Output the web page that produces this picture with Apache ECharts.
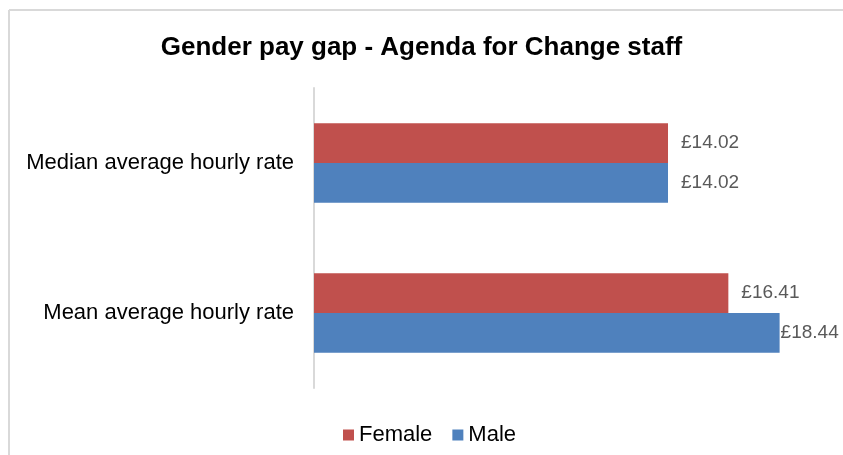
<!DOCTYPE html>
<html>
<head>
<meta charset="utf-8">
<script src="https://cdn.jsdelivr.net/npm/echarts@6/dist/echarts.min.js"></script>
<style>
  html, body { margin: 0; padding: 0; background: #fff; }
  #chart { width: 843px; height: 455px; }
</style>
</head>
<body>
<div id="chart"></div>
<script>
  // categories bottom-to-top (ECharts draws the first category at the bottom)
  var categories = ['Mean average hourly rate', 'Median average hourly rate'];
  var femaleValues = [16.41, 14.02];
  var maleValues = [18.44, 14.02];

  var myChart = echarts.init(document.getElementById('chart'));

  function money(p) {
    return '£' + p.value.toFixed(2);
  }

  var labelStyle = {
    show: true,
    position: 'right',
    distance: 13,
    color: '#595959',
    fontSize: 19,
    fontFamily: 'Liberation Sans, Arial, sans-serif',
    formatter: money
  };

  var option = {
    backgroundColor: '#fff',
    animation: false,
    title: {
      text: 'Gender pay gap - Agenda for Change staff',
      left: 'center',
      top: 30,
      textStyle: {
        fontSize: 26,
        fontWeight: 'bold',
        color: '#000',
        fontFamily: 'Liberation Sans, Arial, sans-serif'
      }
    },
    legend: {
      data: ['Female', 'Male'],
      bottom: 4,
      left: 338,
      icon: 'rect',
      itemWidth: 11,
      itemHeight: 11,
      itemGap: 20,
      textStyle: {
        fontSize: 22,
        color: '#000',
        fontFamily: 'Liberation Sans, Arial, sans-serif'
      }
    },
    grid: {
      left: 314,
      right: 24,
      top: 88,
      bottom: 67
    },
    xAxis: {
      type: 'value',
      min: 0,
      max: 20,
      show: false
    },
    yAxis: {
      type: 'category',
      data: categories,
      axisLine: { show: true, lineStyle: { color: '#d9d9d9', width: 2 } },
      axisTick: { show: false },
      axisLabel: {
        margin: 20,
        fontSize: 22,
        color: '#000',
        fontFamily: 'Liberation Sans, Arial, sans-serif'
      }
    },
    graphic: [
      { type: 'line', shape: { x1: 9, y1: 10, x2: 843, y2: 10 }, style: { stroke: '#d9d9d9', lineWidth: 2 } },
      { type: 'line', shape: { x1: 9, y1: 10, x2: 9, y2: 455 }, style: { stroke: '#d9d9d9', lineWidth: 2 } }
    ],
    series: [
      {
        name: 'Female',
        type: 'bar',
        barGap: 0,
        barCategoryGap: '47%',
        itemStyle: { color: '#c0504d' },
        label: labelStyle,
        data: femaleValues
      },
      {
        name: 'Male',
        type: 'bar',
        barGap: 0,
        barCategoryGap: '47%',
        itemStyle: { color: '#4f81bd' },
        label: labelStyle,
        data: maleValues.map(function (v) {
          // the longest bar's label sits close to the bar end in the original
          return v === Math.max.apply(null, maleValues) ? { value: v, label: { distance: 1 } } : v;
        })
      }
    ]
  };

  myChart.setOption(option);
</script>
</body>
</html>
